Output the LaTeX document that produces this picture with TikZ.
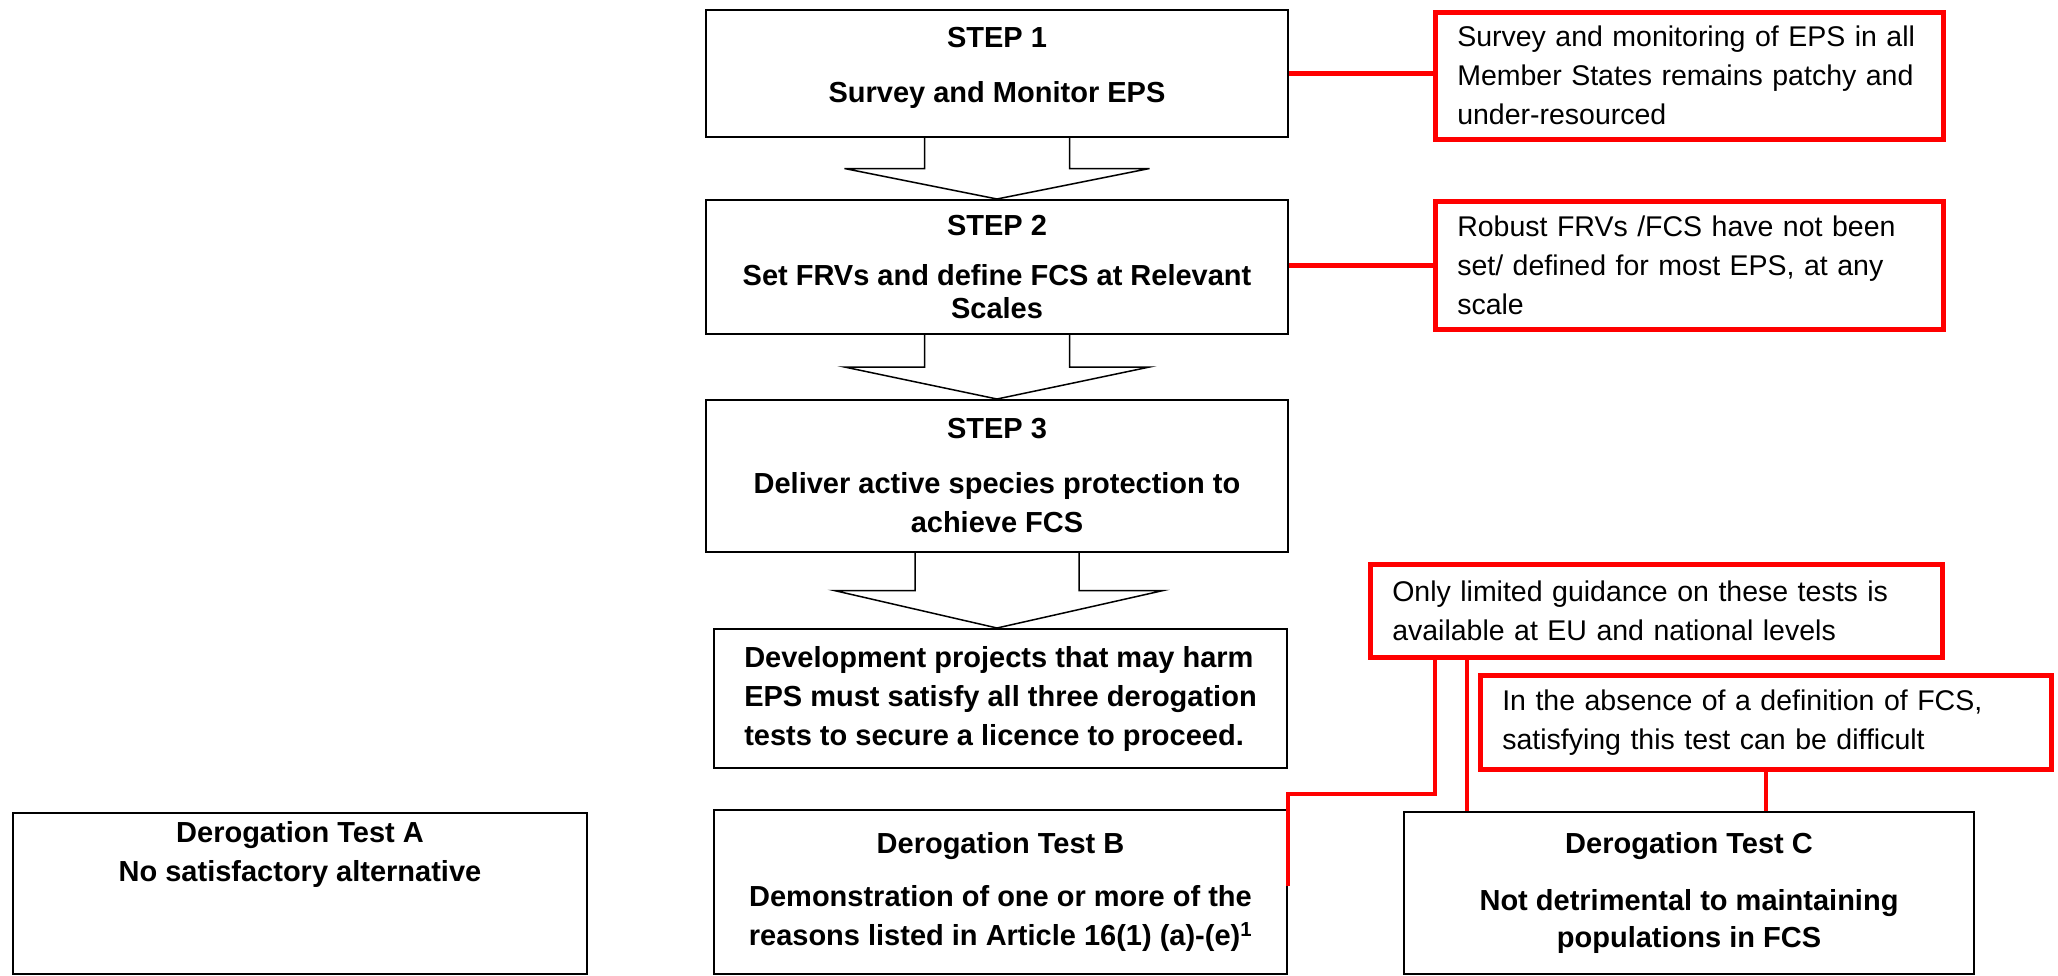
\documentclass[tikz,border=0pt]{standalone}
\usepackage{fontspec}
\setmainfont{Liberation Sans}
\usetikzlibrary{calc}

\newcommand{\diafont}{\fontsize{29}{39}\selectfont}
\newcommand{\notefont}{\fontsize{28.5}{39}\selectfont}
\tikzset{
  blackbox/.style={draw, line width=2pt, anchor=north west, inner sep=0pt, align=center, font=\diafont\bfseries},
  redbox/.style={draw=red, line width=4.5pt, anchor=north west, inner xsep=22pt, inner ysep=0pt, align=left, font=\notefont},
  redline/.style={red, line width=4.5pt},
  blockline/.style={line width=1.5pt},
}
\newcommand{\blockarrow}[4]{%
  \coordinate (mid) at ($(#1.south)!0.5!(#2.north)$);
  \draw[blockline] ($(#1.south)+(-#3,0)$) |- ($(mid)+(-#4,0)$) -- (#1.south |- #2.north) -- ($(mid)+(#4,0)$) -| ($(#1.south)+(#3,0)$);
}

\begin{document}
\begin{tikzpicture}[x=1pt,y=-1pt]
\useasboundingbox (0,0) rectangle (2058,975);

\node[blackbox, minimum width=582pt, minimum height=127pt, text depth=17pt] (s1) at (705,9) {STEP 1\\[16pt]Survey and Monitor EPS};
\node[blackbox, minimum width=582pt, minimum height=134pt] (s2) at (705,199) {STEP 2\\[11pt]Set FRVs and define FCS at Relevant\\[-6pt]Scales};
\node[blackbox, minimum width=582pt, minimum height=152pt] (s3) at (705,399) {STEP 3\\[16pt]Deliver active species protection to\\achieve FCS};
\node[blackbox, align=left, minimum width=573pt, minimum height=139pt] (dev) at (713,628) {Development projects that may harm\\EPS must satisfy all three derogation\\tests to secure a licence to proceed.};

\node[blackbox, minimum width=574pt, minimum height=161pt, text depth=84pt] (ta) at (12,812) {Derogation Test A\\No satisfactory alternative};
\node[blackbox, minimum width=573pt, minimum height=164pt] (tb) at (713,809) {Derogation Test B\\[14pt]Demonstration of one or more of the\\reasons listed in Article 16(1) (a)-(e)\textsuperscript{1}};
\node[blackbox, minimum width=570pt, minimum height=162pt] (tc) at (1403,811) {Derogation Test C\\[18pt]Not detrimental to maintaining\\[-2pt]populations in FCS};

\node[redbox, text width=464pt, minimum height=127pt] (r1) at (1433,10) {Survey and monitoring of EPS in all\\Member States remains patchy and\\under-resourced};
\node[redbox, text width=464pt, minimum height=128pt] (r2) at (1433,199) {Robust FRVs /FCS have not been\\set/ defined for most EPS, at any\\scale};
\node[redbox, text width=528pt, minimum height=93pt] (r3) at (1368,562) {Only limited guidance on these tests is\\available at EU and national levels};
\node[redbox, text width=527pt, minimum height=94pt] (r4) at (1478,673) {In the absence of a definition of FCS,\\satisfying this test can be difficult};

\blockarrow{s1}{s2}{72.5}{152.5}
\blockarrow{s2}{s3}{72.5}{152.5}
\blockarrow{s3}{dev}{82}{164.5}

\draw[redline] (s1.east) -- (s1.east -| r1.west);
\draw[redline] (r2.west) -- (r2.west -| s2.east);
\draw[redline] ($(r3.south west)+(67,0)$) |- ($(tb.north east)+(0,-15)$) -- ($(tb.east)+(0,-6)$);
\path ($(r3.south west)+(99,0)$) coordinate (rc);
\draw[redline] (rc) -- (rc |- tc.north);
\draw[redline] (r4.south) -- (r4.south |- tc.north);
\end{tikzpicture}
\end{document}
